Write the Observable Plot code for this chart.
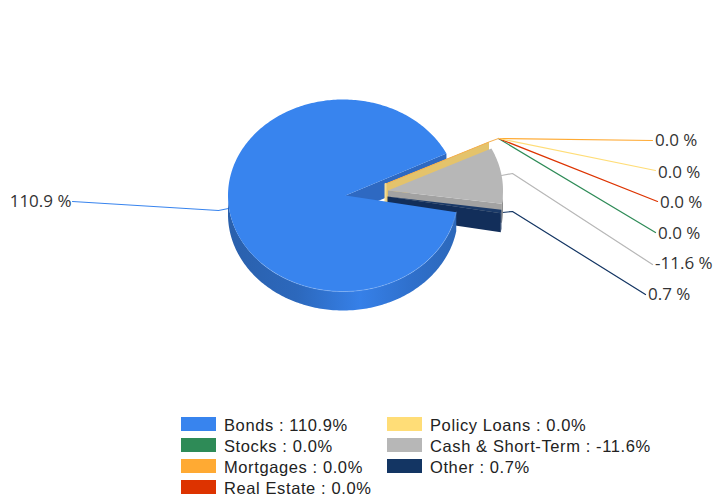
<!DOCTYPE html>
<html>
<head>
<meta charset="utf-8">
<script src="https://cdn.jsdelivr.net/npm/d3@7"></script>
<script src="https://cdn.jsdelivr.net/npm/@observablehq/plot@0.6"></script>
<style>
  html, body { margin: 0; padding: 0; background: #fff; }
  #chart svg { display: block; background: #fff; }
  #legend { position: absolute; left: 181px; top: 417px; display: flex; gap: 0; font: 16.5px "Liberation Sans", Arial, sans-serif; letter-spacing: 0.6px; color: #222; }
  .col { display: flex; flex-direction: column; gap: 7px; width: 206px; }
  .item { display: flex; align-items: center; height: 14px; white-space: nowrap; }
  .item span:last-child { position: relative; top: 1px; }
  .sw { width: 35px; height: 14px; margin-right: 8px; flex: none; }
</style>
</head>
<body>
<div id="chart"></div>
<div id="legend"></div>
<script>
// ---- data ----
const categories = ["Bonds", "Stocks", "Mortgages", "Real Estate", "Policy Loans", "Cash & Short-Term", "Other"];
const values = [110.9, 0.0, 0.0, 0.0, 0.0, -11.6, 0.7];
const colors = ["#3884ee", "#2e8b57", "#ffaa33", "#dd3300", "#ffdd77", "#b7b7b7", "#133563"];
const legendColumns = [[0, 1, 2, 3], [4, 5, 6]];

// ---- layout (pixels) ----
const W = 714, H = 405;
const RX = 115, RY = 96, DEPTH = 19;
const START_DEG = 10;                 // screen angle where the Bonds slice begins, clockwise from +x
const apex = {                        // slice apex after explosion
  "Bonds": [345, 195],
  "Stocks": [385, 183.5], "Mortgages": [385, 183.5], "Real Estate": [385, 183.5], "Policy Loans": [385, 183.5],
  "Cash & Short-Term": [387.5, 190],
  "Other": [387, 196]
};
const rimShift = {"Bonds": -2.5};     // the rim ellipse of the main slice sits slightly left of its apex
const fan = [498, 138];               // where the zero-slice leaders meet
const leaders = {                     // leader polyline and label placement
  "Bonds":  {pts: [[228, 208], [218, 210], [72, 201]], label: [71, 201], anchor: "end"},
  "Mortgages": {pts: [fan, [652, 140]], label: [654.5, 140], anchor: "start"},
  "Policy Loans": {pts: [fan, [655, 170]], label: [657.5, 172], anchor: "start"},
  "Real Estate": {pts: [fan, [657, 201]], label: [659.5, 202], anchor: "start"},
  "Stocks": {pts: [fan, [655, 232]], label: [657.5, 233], anchor: "start"},
  "Cash & Short-Term": {pts: [[501, 175], [512, 173], [652, 264]], label: [654.5, 263], anchor: "start"},
  "Other": {pts: [[502, 212], [512, 211], [645, 294]], label: [647.5, 294], anchor: "start"}
};

// ---- slice geometry, from the values ----
const a0 = START_DEG * Math.PI / 180 + Math.PI / 2;
const arcs = d3.pie().sort(null).startAngle(a0).endAngle(a0 + 2 * Math.PI)
  .value(d => Math.abs(d))(values)
  .map((a, i) => ({name: categories[i], color: colors[i], a0: a.startAngle - Math.PI / 2, a1: a.endAngle - Math.PI / 2, value: values[i]}));
const byName = Object.fromEntries(arcs.map(a => [a.name, a]));

const onRim = (name, a, dy = 0) => {
  const [cx, cy] = apex[name];
  return {x: cx + (rimShift[name] || 0) + RX * Math.cos(a), y: cy + RY * Math.sin(a) + dy};
};
const arcPts = (name, from, to, dy = 0) => {
  const n = Math.max(1, Math.ceil(Math.abs(to - from) / (Math.PI / 180)));
  return d3.range(n + 1).map(i => onRim(name, from + (to - from) * i / n, dy));
};
const centre = (name, dy = 0) => ({x: apex[name][0], y: apex[name][1] + dy});
const topFace = a => [centre(a.name), ...arcPts(a.name, a.a0, a.a1), centre(a.name)];
const radialWall = (name, a) => [centre(name), onRim(name, a), onRim(name, a, DEPTH), centre(name, DEPTH), centre(name)];
const rimWall = (name, from, to) => [...arcPts(name, from, to), ...arcPts(name, to, from, DEPTH)];
const poly = (pts, fill, extra = {}) => Plot.line(pts, {x: "x", y: "y", fill, stroke: "none", curve: "linear-closed", ...extra});

const bonds = byName["Bonds"], cash = byName["Cash & Short-Term"], other = byName["Other"];
const zeros = arcs.filter(a => a.value === 0);
const zeroA = zeros[0].a0, zeroName = zeros[0].name;

const leaderRows = arcs.flatMap(a => leaders[a.name].pts.map(([x, y]) => ({x, y, name: a.name, color: a.color})));
const labelRows = arcs.map(a => ({
  x: leaders[a.name].label[0], y: leaders[a.name].label[1], anchor: leaders[a.name].anchor,
  text: `${a.value.toFixed(1)} %`
}));
const labelMark = anchor => Plot.text(labelRows.filter(d => d.anchor === anchor), {
  x: "x", y: "y", text: "text", textAnchor: anchor, fontSize: 17, fill: "#333", fontFamily: "'Open Sans'", lineAnchor: "middle"
});

const defs = () => {
  const d = d3.create("svg:defs");
  const g = d.append("linearGradient").attr("id", "side");
  [[0, "#2a60ac"], [0.3, "#2c68bc"], [0.58, "#3680e8"], [0.8, "#2f70cc"], [1, "#2c68ba"]]
    .forEach(([o, c]) => g.append("stop").attr("offset", o).attr("stop-color", c));
  return d.node();
};

const plot = Plot.plot({
  width: W, height: H, margin: 0,
  x: {domain: [0, W], range: [0, W], axis: null},
  y: {domain: [0, H], range: [0, H], axis: null},
  marks: [
    defs,
    // leaders, behind the pie
    Plot.line(leaderRows, {x: "x", y: "y", z: "name", stroke: "color", strokeWidth: 1.2, curve: "linear"}),
    // inner radial wall of Bonds
    poly(radialWall("Bonds", bonds.a1), "#2e69c2"),
    // zero slices collapse to a single wall
    ...zeros.map(a => poly(radialWall(a.name, a.a0), "#e4c36c")),
    Plot.line([centre(zeroName), onRim(zeroName, zeroA), {x: fan[0], y: fan[1]}], {x: "x", y: "y", stroke: "#f5b050", strokeWidth: 1}),
    Plot.line([centre(zeroName), centre(zeroName, DEPTH)], {x: "x", y: "y", stroke: "#f6dc94", strokeWidth: 2}),
    // Cash
    poly(rimWall("Cash & Short-Term", cash.a0 + (cash.a1 - cash.a0) * 0.8, cash.a1), "#8c8c8c"),
    poly(radialWall("Cash & Short-Term", cash.a1), "#a2a2a2"),
    poly(topFace(cash), "#b7b7b7"),
    // Other
    poly(radialWall("Other", other.a1), "#122e5a"),
    poly(rimWall("Other", other.a0, other.a1), "#122e5a"),
    poly(topFace(other), "#1b3a68"),
    // Bonds side and top
    poly(rimWall("Bonds", bonds.a0, Math.PI), "url(#side)"),
    poly(topFace(bonds), "#3884ee"),
    Plot.line(arcPts("Bonds", bonds.a0, Math.PI * 0.75), {x: "x", y: "y", stroke: "#9cc3f7", strokeWidth: 0.6, strokeOpacity: 0.7}),
    // labels
    labelMark("start"),
    labelMark("end")
  ]
});
document.getElementById("chart").append(plot);

const legend = d3.select("#legend");
legendColumns.forEach(col => {
  const c = legend.append("div").attr("class", "col");
  col.forEach(i => {
    const it = c.append("div").attr("class", "item");
    it.append("span").attr("class", "sw").style("background", colors[i]);
    it.append("span").text(`${categories[i]} : ${values[i].toFixed(1)}%`);
  });
});
</script>
</body>
</html>
